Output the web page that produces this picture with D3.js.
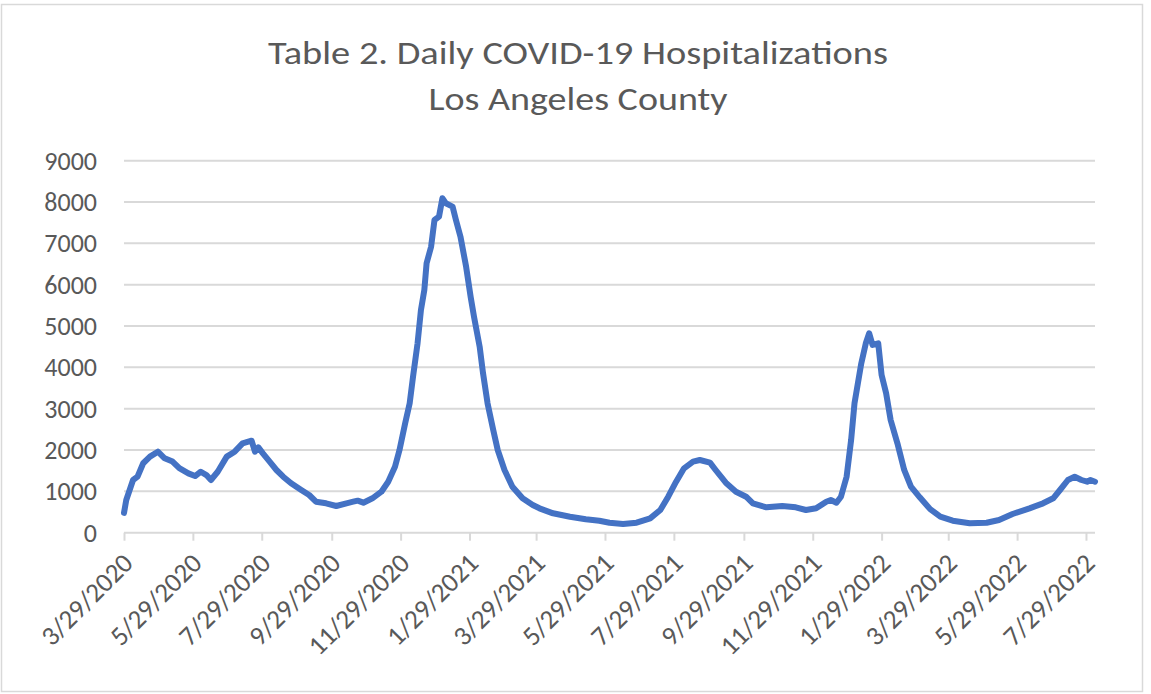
<!DOCTYPE html>
<html>
<head>
<meta charset="utf-8">
<script src="https://cdn.jsdelivr.net/npm/d3@7"></script>
<style>
  html, body { margin: 0; padding: 0; background: #fff; }
  svg { display: block; }
  text { font-family: Carlito, "Open Sans", "Liberation Sans", sans-serif; fill: #595959; }
</style>
</head>
<body>
<div id="ChartDiv"></div>
<script>
const dates = [
    "3/29/2020", "3/31/2020", "4/6/2020", "4/10/2020", "4/15/2020", "4/21/2020", "4/28/2020",
    "5/4/2020", "5/11/2020", "5/17/2020", "5/25/2020", "5/31/2020", "6/5/2020", "6/10/2020",
    "6/14/2020", "6/20/2020", "6/28/2020", "7/5/2020", "7/12/2020", "7/20/2020", "7/23/2020",
    "7/26/2020", "7/30/2020", "8/5/2020", "8/11/2020", "8/17/2020", "8/24/2020", "9/2/2020",
    "9/9/2020", "9/15/2020", "9/24/2020", "10/3/2020", "10/12/2020", "10/18/2020", "10/22/2020",
    "10/27/2020", "11/4/2020", "11/12/2020", "11/18/2020", "11/24/2020", "11/28/2020", "12/3/2020",
    "12/7/2020", "12/10/2020", "12/14/2020", "12/17/2020", "12/20/2020", "12/22/2020", "12/26/2020",
    "12/29/2020", "1/2/2021", "1/5/2021", "1/8/2021", "1/14/2021", "1/17/2021", "1/21/2021",
    "1/26/2021", "1/30/2021", "2/2/2021", "2/7/2021", "2/10/2021", "2/14/2021", "2/19/2021",
    "2/23/2021", "3/1/2021", "3/8/2021", "3/17/2021", "3/26/2021", "4/1/2021", "4/13/2021",
    "4/28/2021", "5/12/2021", "5/24/2021", "6/2/2021", "6/14/2021", "6/26/2021", "7/8/2021",
    "7/17/2021", "7/24/2021", "7/31/2021", "8/7/2021", "8/15/2021", "8/21/2021", "8/30/2021",
    "9/4/2021", "9/13/2021", "9/22/2021", "10/1/2021", "10/7/2021", "10/19/2021", "11/2/2021",
    "11/14/2021", "11/23/2021", "12/2/2021", "12/11/2021", "12/15/2021", "12/20/2021", "12/24/2021",
    "12/29/2021", "1/2/2022", "1/5/2022", "1/8/2022", "1/11/2022", "1/15/2022", "1/18/2022",
    "1/21/2022", "1/26/2022", "1/29/2022", "2/2/2022", "2/6/2022", "2/12/2022", "2/18/2022",
    "2/24/2022", "3/4/2022", "3/13/2022", "3/22/2022", "4/2/2022", "4/17/2022", "5/2/2022",
    "5/13/2022", "5/25/2022", "6/9/2022", "6/21/2022", "6/30/2022", "7/6/2022", "7/13/2022",
    "7/19/2022", "7/25/2022", "7/30/2022", "8/2/2022", "8/6/2022"
];
const hospitalized = [
    480, 790, 1275, 1355, 1680, 1840, 1960,
    1800, 1720, 1560, 1435, 1370, 1475, 1395,
    1275, 1475, 1840, 1960, 2160, 2225, 1960,
    2065, 1920, 1720, 1517, 1355, 1195, 1033,
    912, 750, 711, 646, 711, 750, 775,
    726, 832, 992, 1234, 1597, 2000, 2647,
    3130, 3775, 4582, 5388, 5872, 6518, 6920,
    7566, 7646, 8090, 7970, 7890, 7566, 7162,
    6436, 5710, 5226, 4500, 3857, 3131, 2485,
    2000, 1517, 1113, 832, 670, 590, 469,
    387, 324, 290, 242, 210, 242, 348,
    549, 871, 1234, 1558, 1718, 1759, 1694,
    1517, 1210, 992, 871, 711, 614, 646,
    614, 549, 590, 750, 791, 726, 871,
    1355, 2243, 3131, 3615, 4098, 4582, 4824,
    4542, 4582, 3816, 3373, 2727, 2163, 1517,
    1113, 850, 570, 387, 290, 227, 242,
    307, 452, 590, 711, 832, 1033, 1275,
    1355, 1275, 1234, 1275, 1234
];
const tickLabels = [
    "3/29/2020", "5/29/2020", "7/29/2020", "9/29/2020", "11/29/2020", "1/29/2021",
    "3/29/2021", "5/29/2021", "7/29/2021", "9/29/2021", "11/29/2021", "1/29/2022",
    "3/29/2022", "5/29/2022", "7/29/2022"
];
const yTicks = [0, 1000, 2000, 3000, 4000, 5000, 6000, 7000, 8000, 9000];
const titleLines = ["Table 2. Daily COVID-19 Hospitalizations", "Los Angeles County"];

const W = 1151, H = 694;

function createChart() {
    const parse = d3.timeParse("%m/%d/%Y");
    const data = dates.map((d, i) => ({date: parse(d), value: hospitalized[i]}));
    const tickDates = tickLabels.map(parse);

    const x = d3.scaleTime()
        .domain([parse("3/29/2020"), parse("8/6/2022")])
        .range([124, 1095]);
    const y = d3.scaleLinear()
        .domain([0, 9000])
        .range([532.7, 160.7]);

    const svg = d3.select("#ChartDiv").append("svg")
        .attr("width", W)
        .attr("height", H);

    // chart frame
    svg.append("rect")
        .attr("x", 1.5).attr("y", 4.5)
        .attr("width", 1141).attr("height", 687)
        .attr("fill", "#fff")
        .attr("stroke", "#d9d9d9")
        .attr("stroke-width", 1.5);

    // title
    svg.append("g")
        .selectAll("text")
        .data(titleLines)
        .join("text")
        .attr("x", 578)
        .attr("y", (d, i) => i === 0 ? 64 : 110)
        .attr("text-anchor", "middle")
        .attr("font-size", 32)
        .attr("textLength", (d, i) => i === 0 ? 620 : 299)
        .attr("lengthAdjust", "spacingAndGlyphs")
        .text(d => d);

    // gridlines
    svg.append("g")
        .selectAll("line")
        .data(yTicks.filter(v => v > 0))
        .join("line")
        .attr("x1", 124).attr("x2", 1095)
        .attr("y1", d => y(d)).attr("y2", d => y(d))
        .attr("stroke", "#d9d9d9")
        .attr("stroke-width", 2);

    // y axis labels
    const yAxis = d3.axisLeft(y).tickValues(yTicks).tickSize(0).tickPadding(0).tickFormat(d3.format("d"));
    const gy = svg.append("g").attr("transform", "translate(97,0)").call(yAxis);
    gy.select(".domain").remove();
    gy.selectAll("text")
        .attr("font-size", 26)
        .attr("font-family", null)
        .attr("fill", "#595959");

    // x axis
    const xAxis = d3.axisBottom(x).tickValues(tickDates).tickSize(8).tickFormat((d, i) => tickLabels[i]);
    const gx = svg.append("g").attr("transform", `translate(0,${y(0)})`).call(xAxis);
    gx.select(".domain")
        .attr("stroke", "#d9d9d9")
        .attr("stroke-width", 2)
        .attr("d", "M124,0H1095");
    gx.selectAll(".tick line")
        .attr("stroke", "#d9d9d9")
        .attr("stroke-width", 2);
    gx.selectAll(".tick text")
        .attr("font-size", 27)
        .attr("font-family", null)
        .attr("fill", "#595959")
        .attr("text-anchor", "end")
        .attr("y", 0)
        .attr("dy", 0)
        .attr("transform", "translate(10,32) rotate(-45)");

    // the series
    const line = d3.line()
        .x(d => x(d.date))
        .y(d => y(d.value));
    svg.append("path")
        .datum(data)
        .attr("d", line)
        .attr("fill", "none")
        .attr("stroke", "#4472c4")
        .attr("stroke-width", 6)
        .attr("stroke-linejoin", "round")
        .attr("stroke-linecap", "round");
}

createChart();
</script>
</body>
</html>
